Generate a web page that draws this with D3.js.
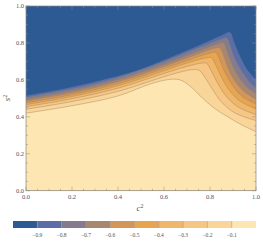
<!DOCTYPE html>
<html>
<head>
<meta charset="utf-8">
<script src="https://cdn.jsdelivr.net/npm/d3@7"></script>
<style>
  body { margin: 0; background: #fff; }
  svg text { font-family: "Liberation Serif", "DejaVu Serif", serif; fill: #555; }
</style>
</head>
<body>
<svg id="chart" width="263" height="242"></svg>
<script>
// contour levels and band colours (band i lies between levels[i-1] and levels[i])
var levels = [-0.9, -0.8, -0.7, -0.6, -0.5, -0.4, -0.3, -0.2, -0.1]
var bandColors = ["#2e5a94", "#5b6fa6", "#847c8e", "#a88770", "#d3965a",
                  "#e8a550", "#f0b66a", "#f6c784", "#fad599", "#fde6b1"]
var xTicks = [0, 0.2, 0.4, 0.6, 0.8, 1.0]
var yTicks = [0, 0.2, 0.4, 0.6, 0.8, 1.0]

// contour lines, [c^2, s^2]
var line09 = [[0,0.513],[0.18,0.554],[0.32,0.594],[0.47,0.644],[0.61,0.711],[0.76,0.789],[0.845,0.836],[0.887,0.856],[0.90,0.815],[0.923,0.745],[0.952,0.672],[0.98,0.625],[1,0.60]]
var line08 = [[0,0.504],[0.2,0.550],[0.4,0.612],[0.6,0.697],[0.75,0.772],[0.84,0.815],[0.872,0.826],[0.885,0.79],[0.905,0.72],[0.935,0.65],[0.97,0.59],[1,0.555]]
var line07 = [[0,0.494],[0.2,0.540],[0.4,0.601],[0.6,0.685],[0.74,0.750],[0.83,0.793],[0.858,0.800],[0.872,0.765],[0.89,0.70],[0.92,0.625],[0.96,0.56],[1,0.525]]
var line06 = [[0,0.485],[0.2,0.530],[0.4,0.590],[0.6,0.673],[0.73,0.732],[0.815,0.770],[0.842,0.774],[0.857,0.74],[0.875,0.675],[0.905,0.60],[0.95,0.535],[1,0.497]]
var line05 = [[0,0.476],[0.2,0.520],[0.4,0.579],[0.6,0.661],[0.72,0.713],[0.80,0.745],[0.825,0.748],[0.842,0.71],[0.862,0.648],[0.895,0.575],[0.94,0.51],[1,0.47]]
var line04 = [[0,0.466],[0.2,0.510],[0.4,0.568],[0.6,0.649],[0.71,0.695],[0.78,0.718],[0.806,0.720],[0.825,0.68],[0.848,0.62],[0.88,0.55],[0.93,0.485],[1,0.443]]
var line03 = [[0,0.455],[0.2,0.498],[0.4,0.555],[0.6,0.635],[0.70,0.673],[0.76,0.690],[0.785,0.690],[0.805,0.65],[0.83,0.59],[0.865,0.52],[0.92,0.455],[1,0.412]]
var line02 = [[0,0.441],[0.2,0.483],[0.4,0.538],[0.6,0.617],[0.68,0.645],[0.73,0.656],[0.755,0.650],[0.78,0.61],[0.81,0.55],[0.85,0.48],[0.91,0.42],[1,0.38]]
var line01 = [[0,0.420],[0.2,0.460],[0.4,0.513],[0.55,0.582],[0.63,0.603],[0.67,0.600],[0.71,0.57],[0.76,0.51],[0.82,0.445],[0.88,0.398],[0.94,0.355],[1,0.32]]

var contourLines = [line09, line08, line07, line06, line05, line04, line03, line02, line01]

var svg = d3.select('#chart')
var x = d3.scaleLinear().domain([0, 1]).range([26, 256])
var y = d3.scaleLinear().domain([0, 1]).range([190.7, 6])

svg.append('clipPath').attr('id', 'plotclip')
    .append('rect')
    .attr('x', x(0)).attr('y', y(1))
    .attr('width', x(1) - x(0)).attr('height', y(0) - y(1))

var plot = svg.append('g').attr('clip-path', 'url(#plotclip)')

// top band (below -0.9)
plot.append('rect')
    .attr('x', x(0)).attr('y', y(1))
    .attr('width', x(1) - x(0)).attr('height', y(0) - y(1))
    .attr('fill', bandColors[0])

var curve = d3.curveCatmullRom.alpha(0.5)

var area = d3.area()
    .x(function(d) { return x(d[0]) })
    .y0(y(0))
    .y1(function(d) { return y(d[1]) })
    .curve(curve)

var line = d3.line()
    .x(function(d) { return x(d[0]) })
    .y(function(d) { return y(d[1]) })
    .curve(curve)

// each level fills everything under it with the next band colour
plot.selectAll('path.band')
    .data(contourLines)
    .join('path')
    .attr('class', 'band')
    .attr('d', area)
    .attr('fill', function(d, i) { return bandColors[i + 1] })

plot.selectAll('path.cline')
    .data(contourLines)
    .join('path')
    .attr('class', 'cline')
    .attr('d', line)
    .attr('fill', 'none')
    .attr('stroke', function(d, i) { return i == 0 ? '#6a7cae' : '#9a8468' })
    .attr('stroke-opacity', 0.75)
    .attr('stroke-width', 0.6)

// frame
svg.append('rect')
    .attr('x', x(0)).attr('y', y(1))
    .attr('width', x(1) - x(0)).attr('height', y(0) - y(1))
    .attr('fill', 'none')
    .attr('stroke', '#888')
    .attr('stroke-width', 0.7)

// ticks on all four sides, pointing inward
var minor = d3.range(0, 1.0001, 0.05)
var ticks = svg.append('g').attr('stroke', '#888').attr('stroke-width', 0.5)
minor.forEach(function(v) {
    var big = xTicks.some(function(t) { return Math.abs(t - v) < 1e-6 })
    var len = big ? 4 : 2
    ticks.append('line').attr('x1', x(v)).attr('x2', x(v)).attr('y1', y(0)).attr('y2', y(0) - len)
    ticks.append('line').attr('x1', x(v)).attr('x2', x(v)).attr('y1', y(1)).attr('y2', y(1) + len)
    ticks.append('line').attr('y1', y(v)).attr('y2', y(v)).attr('x1', x(0)).attr('x2', x(0) + len)
    ticks.append('line').attr('y1', y(v)).attr('y2', y(v)).attr('x1', x(1)).attr('x2', x(1) - len)
})

svg.selectAll('text.xt')
    .data(xTicks)
    .join('text')
    .attr('class', 'xt')
    .attr('x', function(d) { return x(d) })
    .attr('y', 199)
    .attr('text-anchor', 'middle')
    .attr('font-size', 6.5)
    .text(function(d) { return d.toFixed(1) })

svg.selectAll('text.yt')
    .data(yTicks)
    .join('text')
    .attr('class', 'yt')
    .attr('x', x(0) - 2)
    .attr('y', function(d) { return y(d) + 2.2 })
    .attr('text-anchor', 'end')
    .attr('font-size', 6.5)
    .text(function(d) { return d.toFixed(1) })

// axis labels
var xl = svg.append('text')
    .attr('x', 140).attr('y', 211)
    .attr('text-anchor', 'middle')
    .attr('font-size', 9)
    .attr('font-style', 'italic')
xl.append('tspan').text('c')
xl.append('tspan').attr('dy', -3.5).attr('font-size', 6).attr('font-style', 'normal').text('2')

var yl = svg.append('text')
    .attr('transform', 'translate(10,98) rotate(-90)')
    .attr('text-anchor', 'middle')
    .attr('font-size', 9)
    .attr('font-style', 'italic')
yl.append('tspan').text('s')
yl.append('tspan').attr('dy', -3.5).attr('font-size', 6).attr('font-style', 'normal').text('2')

// colour bar
var cb = d3.scaleLinear().domain([-1, 0]).range([13, 256])
var bandEdges = [-1].concat(levels)
svg.selectAll('rect.cb')
    .data(bandColors)
    .join('rect')
    .attr('class', 'cb')
    .attr('x', function(d, i) { return cb(bandEdges[i]) })
    .attr('y', 221)
    .attr('width', cb(-0.9) - cb(-1))
    .attr('height', 7)
    .attr('fill', function(d) { return d })

svg.selectAll('line.cbsep')
    .data(levels)
    .join('line')
    .attr('class', 'cbsep')
    .attr('x1', function(d) { return cb(d) })
    .attr('x2', function(d) { return cb(d) })
    .attr('y1', 221).attr('y2', 228)
    .attr('stroke', '#9a8a78')
    .attr('stroke-width', 0.5)

svg.selectAll('text.cbl')
    .data(levels)
    .join('text')
    .attr('class', 'cbl')
    .attr('x', function(d) { return cb(d) })
    .attr('y', 237)
    .attr('text-anchor', 'middle')
    .attr('font-size', 5.5)
    .text(function(d) { return '\u2212' + Math.abs(d).toFixed(1) })
</script>
</body>
</html>
